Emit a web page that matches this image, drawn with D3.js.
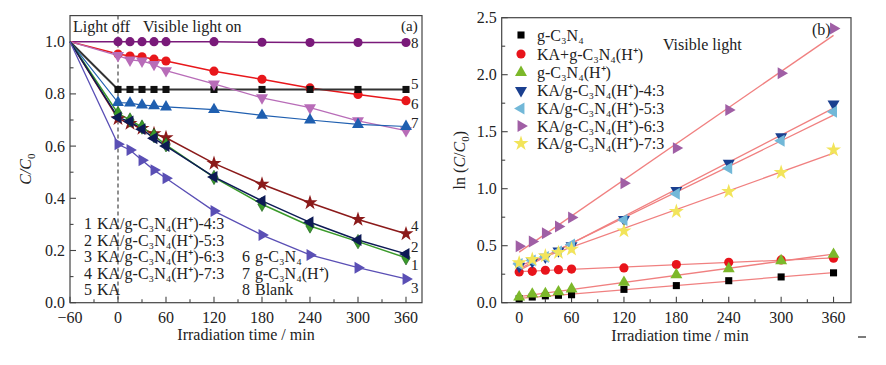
<!DOCTYPE html>
<html><head><meta charset="utf-8">
<script src="https://cdn.jsdelivr.net/npm/d3@7"></script>
<style>
body{margin:0;background:#fff;}
svg text{font-family:"Liberation Serif","Times New Roman",serif;fill:#222;}
</style></head>
<body><svg id="c" width="886" height="365"></svg>
<script>
// ---------- Panel (a) data ----------
const timesA = [-60, 0, 15, 30, 45, 60, 120, 180, 240, 300, 360];
const blankA   = [1.0, 1.0, 1.0, 1.0, 1.0, 1.0, 1.0, 0.998, 0.997, 0.997, 0.997];
const gcnA     = [1.0, 0.953, 0.945, 0.942, 0.933, 0.926, 0.887, 0.856, 0.823, 0.798, 0.774];
const kaA      = [1.0, 0.817, 0.817, 0.817, 0.817, 0.817, 0.817, 0.817, 0.817, 0.817, 0.817];
const pinkA    = [1.0, 0.947, 0.93, 0.926, 0.913, 0.889, 0.838, 0.785, 0.747, 0.697, 0.659];
const gcnHA    = [1.0, 0.767, 0.765, 0.757, 0.754, 0.75, 0.74, 0.718, 0.70, 0.683, 0.675];
const r43A     = [1.0, 0.725, 0.70, 0.673, 0.64, 0.605, 0.48, 0.377, 0.294, 0.234, 0.172];
const r53A     = [1.0, 0.71, 0.694, 0.665, 0.63, 0.60, 0.482, 0.39, 0.308, 0.24, 0.187];
const r63A     = [1.0, 0.607, 0.585, 0.546, 0.508, 0.477, 0.351, 0.259, 0.183, 0.134, 0.091];
const r73A     = [1.0, 0.705, 0.687, 0.668, 0.648, 0.632, 0.534, 0.454, 0.383, 0.319, 0.264];
const xTicksA = [-60, 0, 60, 120, 180, 240, 300, 360];
const yTicksA = [0.0, 0.2, 0.4, 0.6, 0.8, 1.0];
const legendA1 = ["KA/g-C₃N₄(H⁺)-4:3","KA/g-C₃N₄(H⁺)-5:3","KA/g-C₃N₄(H⁺)-6:3","KA/g-C₃N₄(H⁺)-7:3","KA"];
const legendA2 = ["g-C₃N₄","g-C₃N₄(H⁺)","Blank"];

// ---------- Panel (b) data ----------
const timesB = [0, 15, 30, 45, 60, 120, 180, 240, 300, 360];
const gcnB   = [0.035, 0.05, 0.06, 0.065, 0.07, 0.117, 0.15, 0.193, 0.226, 0.262];
const kagB   = [0.27, 0.275, 0.285, 0.29, 0.295, 0.305, 0.335, 0.355, 0.375, 0.39];
const gcnHB  = [0.05, 0.075, 0.08, 0.095, 0.12, 0.178, 0.245, 0.298, 0.368, 0.424];
const r43B   = [0.32, 0.36, 0.40, 0.455, 0.50, 0.73, 0.985, 1.223, 1.456, 1.743];
const r53B   = [0.34, 0.37, 0.40, 0.45, 0.51, 0.725, 0.955, 1.18, 1.42, 1.675];
const r63B   = [0.495, 0.537, 0.61, 0.668, 0.748, 1.048, 1.356, 1.69, 2.012, 2.405];
const r73B   = [0.35, 0.38, 0.41, 0.44, 0.47, 0.63, 0.80, 0.975, 1.142, 1.34];
const xTicksB = [0, 60, 120, 180, 240, 300, 360];
const yTicksB = [0.0, 0.5, 1.0, 1.5, 2.0, 2.5];
const legendB = ["g-C₃N₄","KA+g-C₃N₄(H⁺)","g-C₃N₄(H⁺)","KA/g-C₃N₄(H⁺)-4:3","KA/g-C₃N₄(H⁺)-5:3","KA/g-C₃N₄(H⁺)-6:3","KA/g-C₃N₄(H⁺)-7:3"];

const svg = d3.select("#c");

function sym(type, size, rot){ return {type, size, rot: rot||0}; }
const SQ = sym(d3.symbolSquare, 50), CI = sym(d3.symbolCircle, 66),
      TU = sym(d3.symbolTriangle, 62), TD = sym(d3.symbolTriangle, 62, 180),
      TL = sym(d3.symbolTriangle, 62, -90), TR = sym(d3.symbolTriangle, 62, 90),
      DI = sym(d3.symbolDiamond, 60), ST = sym(d3.symbolStar, 70);

function drawMarker(g, s, x, y, fill, stroke){
  g.append("path").attr("d", d3.symbol().type(s.type).size(s.size)())
    .attr("transform", `translate(${x},${y}) rotate(${s.rot})`)
    .attr("fill", fill).attr("stroke", stroke||"none").attr("stroke-width", 0.6);
}

function frame(g, x, y, X0, X1, Y0, Y1, xMajor, xMinor, yMajor, yMinor, xFmt, yFmt){
  g.append("rect").attr("x", X0).attr("y", Y1).attr("width", X1-X0).attr("height", Y0-Y1)
    .attr("fill","none").attr("stroke","#444").attr("stroke-width",1.2);
  xMajor.forEach(v=>{
    g.append("line").attr("x1",x(v)).attr("x2",x(v)).attr("y1",Y0).attr("y2",Y0-6).attr("stroke","#444").attr("stroke-width",1.1);
    g.append("text").attr("x",x(v)).attr("y",Y0+20).attr("text-anchor","middle").attr("font-size",16).text(xFmt(v));
  });
  xMinor.forEach(v=>{
    g.append("line").attr("x1",x(v)).attr("x2",x(v)).attr("y1",Y0).attr("y2",Y0-3.5).attr("stroke","#444").attr("stroke-width",1.1);
  });
  yMajor.forEach(v=>{
    g.append("line").attr("x1",X0).attr("x2",X0+6).attr("y1",y(v)).attr("y2",y(v)).attr("stroke","#444").attr("stroke-width",1.1);
    g.append("text").attr("x",X0-5).attr("y",y(v)+5.5).attr("text-anchor","end").attr("font-size",16).text(yFmt(v));
  });
  yMinor.forEach(v=>{
    g.append("line").attr("x1",X0).attr("x2",X0+3.5).attr("y1",y(v)).attr("y2",y(v)).attr("stroke","#444").attr("stroke-width",1.1);
  });
}

// ================= Panel (a) =================
{
  const X0 = 70, X1 = 422, Y0 = 302.7, Y1 = 15.6;
  const x = d3.scaleLinear().domain([-60, 380]).range([X0, X1]);
  const y = d3.scaleLinear().domain([0, 1.1]).range([Y0, Y1]);
  const g = svg.append("g");
  frame(g, x, y, X0, X1, Y0, Y1, xTicksA, [-30,30,90,150,210,270,330], yTicksA, [0.1,0.3,0.5,0.7,0.9],
        v=> v<0 ? "\u2212"+Math.abs(v) : v, v=>v.toFixed(1));
  g.append("line").attr("x1",x(0)).attr("x2",x(0)).attr("y1",Y1).attr("y2",Y0)
    .attr("stroke","#555").attr("stroke-width",1.3).attr("stroke-dasharray","4,3");

  const series = [
    {v: blankA, c:"#7a1a7a", s:CI, lw:1.5},
    {v: gcnA,   c:"#e8171b", s:CI, lw:1.5},
    {v: kaA,    c:"#111111", s:SQ, lw:2, lc:"#333"},
    {v: pinkA,  c:"#b86cb8", s:TD, lw:1.3},
    {v: gcnHA,  c:"#1f5fb0", s:TU, lw:1.2},
    {v: r73A,   c:"#8b1a1a", s:ST, lw:1.5},
    {v: r43A,   c:"#3a9a2a", s:DI, lw:1.5},
    {v: r53A,   c:"#0d1a55", s:TL, lw:1.5},
    {v: r63A,   c:"#5a4fb5", s:TR, lw:1.3},
  ];
  const line = d3.line().x((d,i)=>x(timesA[i])).y(d=>y(d));
  series.forEach(se=>{
    g.append("path").attr("d", line(se.v)).attr("fill","none").attr("stroke", se.lc||se.c).attr("stroke-width", se.lw);
  });
  series.forEach(se=>{
    se.v.forEach((d,i)=>{ if(i>0) drawMarker(g, se.s, x(timesA[i]), y(d), se.c, se.c==="#3a9a2a"?"#1a5a1a":null); });
  });
  const rl = [["8",48],["5",89],["6",109],["7",128],["4",231],["2",252],["1",270],["3",293]];
  rl.forEach(([t,yy])=> g.append("text").attr("x",411).attr("y",yy).attr("font-size",15).text(t));

  g.append("text").attr("x",73).attr("y",32).attr("font-size",16).text("Light off");
  g.append("text").attr("x",143).attr("y",32).attr("font-size",16).text("Visible light on");
  g.append("text").attr("x",401).attr("y",31).attr("font-size",15).text("(a)");

  const rowY = [229, 245.5, 262, 278.5, 295];
  legendA1.forEach((t,i)=>{
    g.append("text").attr("x",84).attr("y",rowY[i]).attr("font-size",16).text(i+1);
    g.append("text").attr("x",97).attr("y",rowY[i]).attr("font-size",16).text(t);
  });
  legendA2.forEach((t,i)=>{
    g.append("text").attr("x",242).attr("y",rowY[i+2]).attr("font-size",16).text(i+6);
    g.append("text").attr("x",255).attr("y",rowY[i+2]).attr("font-size",16).text(t);
  });

  g.append("text").attr("x",(X0+X1)/2).attr("y",340).attr("text-anchor","middle").attr("font-size",16).text("Irradiation time / min");
  g.append("text").attr("transform",`translate(31,${(Y0+Y1)/2+10}) rotate(-90)`).attr("text-anchor","middle")
    .attr("font-size",16).attr("font-style","italic").html('C/C<tspan font-size="11" dy="4" font-style="normal">0</tspan>');
}

// ================= Panel (b) =================
{
  const X0 = 501.7, X1 = 851, Y0 = 302.7, Y1 = 17.7;
  const x = d3.scaleLinear().domain([-20, 380]).range([X0, X1]);
  const y = d3.scaleLinear().domain([0, 2.5]).range([Y0, Y1]);
  const g = svg.append("g");
  frame(g, x, y, X0, X1, Y0, Y1, xTicksB, [30,90,150,210,270,330], yTicksB, [0.25,0.75,1.25,1.75,2.25],
        v=>v, v=>v.toFixed(1));

  const series = [
    {v: gcnB,  c:"#000000", s:SQ},
    {v: kagB,  c:"#e8141b", s:CI},
    {v: gcnHB, c:"#7cb82a", s:TU},
    {v: r43B,  c:"#1a3f8f", s:TD},
    {v: r53B,  c:"#72b8d8", s:TL},
    {v: r63B,  c:"#a05fa5", s:TR},
    {v: r73B,  c:"#f2e45a", s:ST},
  ];
  series.forEach(se=>{
    const mx = d3.mean(timesB), my = d3.mean(se.v);
    let sxy=0, sxx=0;
    timesB.forEach((t,i)=>{ sxy += (t-mx)*(se.v[i]-my); sxx += (t-mx)*(t-mx); });
    const b = sxy/sxx, a = my - b*mx;
    g.append("line").attr("x1",x(0)).attr("y1",y(a)).attr("x2",x(360)).attr("y2",y(a+b*360))
      .attr("stroke","#f08080").attr("stroke-width",1.3);
  });
  series.forEach(se=>{
    se.v.forEach((d,i)=> drawMarker(g, se.s, x(timesB[i]), y(d), se.c));
  });

  const rowY = [35, 54, 72.5, 90.5, 108.5, 126, 143.5];
  legendB.forEach((t,i)=>{
    drawMarker(g, series[i].s, 521, rowY[i], series[i].c);
    g.append("text").attr("x",537).attr("y",rowY[i]+5.5).attr("font-size",16).text(t);
  });
  g.append("text").attr("x",663).attr("y",50).attr("font-size",16).text("Visible light");
  g.append("text").attr("x",812).attr("y",35).attr("font-size",16).text("(b)");

  g.append("text").attr("x",680).attr("y",341).attr("text-anchor","middle").attr("font-size",16).text("Irradiation time / min");
  g.append("text").attr("transform",`translate(465,${(Y0+Y1)/2}) rotate(-90)`).attr("text-anchor","middle")
    .attr("font-size",16).html('ln (<tspan font-style="italic">C</tspan>/<tspan font-style="italic">C</tspan><tspan font-size="11" dy="4">0</tspan><tspan dy="-4">)</tspan>');
  g.append("line").attr("x1",858).attr("x2",866).attr("y1",337).attr("y2",337).attr("stroke","#333").attr("stroke-width",1.3);
}
</script></body></html>
